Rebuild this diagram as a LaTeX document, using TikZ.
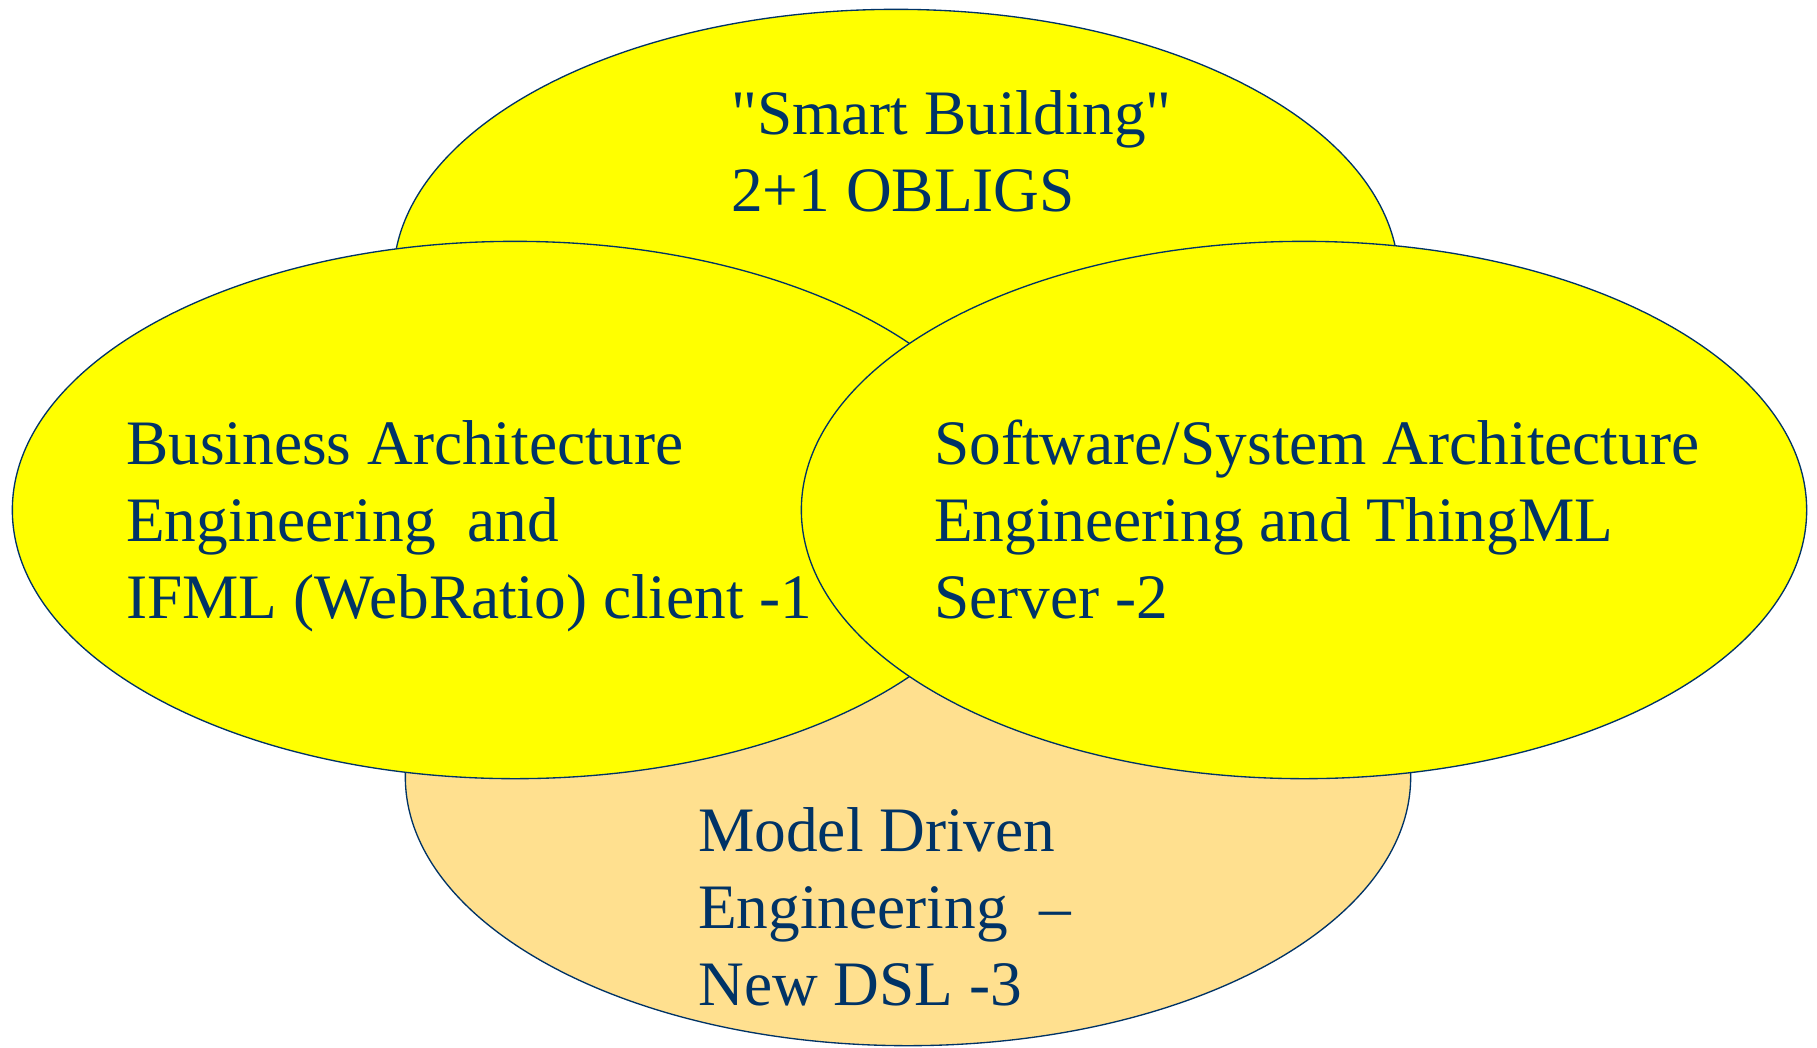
\documentclass[tikz,border=0pt]{standalone}
\usepackage{fontspec}
\setmainfont{Liberation Serif}
\usepackage{xcolor}
\usetikzlibrary{shapes}
\definecolor{navy}{HTML}{003366}
\definecolor{sun}{HTML}{FFFF00}
\definecolor{sand}{HTML}{FFE08F}
\newcommand{\strq}{\XeTeXglyph\XeTeXcharglyph"22\relax}
\tikzstyle{area}=[ellipse,draw=navy,line width=1pt,minimum width=754pt,minimum height=403pt,inner sep=0pt]
\tikzstyle{blurb}=[anchor=base west,align=left,inner sep=0pt,text=navy,font=\fontsize{47.5}{57.4}\selectfont]

\begin{document}
\begin{tikzpicture}[x=0.75pt,y=-0.75pt]
        \useasboundingbox (0,0) rectangle (1817,1047);

        \node at (908,777)  [area,fill=sand] (mde)      {};
        \node at (896,278)  [area,fill=sun]  (obligs)   {};
        \node at (515,510)  [area,fill=sun]  (business) {};
        \node at (1304,510) [area,fill=sun]  (software) {};

        % base west sits on the last line
        \node at (731,211)  [blurb] (obligstext)   {\strq Smart Building\strq\\2+1 OBLIGS};
        \node at (126,618)  [blurb] (businesstext) {Business Architecture\\Engineering\ \ and\\IFML (WebRatio) client -1};
        \node at (934,618)  [blurb] (softwaretext) {Software/System Architecture\\Engineering and ThingML\\Server -2};
        \node at (698,1005) [blurb] (mdetext)      {Model Driven\\Engineering\ \ --\\New DSL -3};
      \end{tikzpicture}
\end{document}
